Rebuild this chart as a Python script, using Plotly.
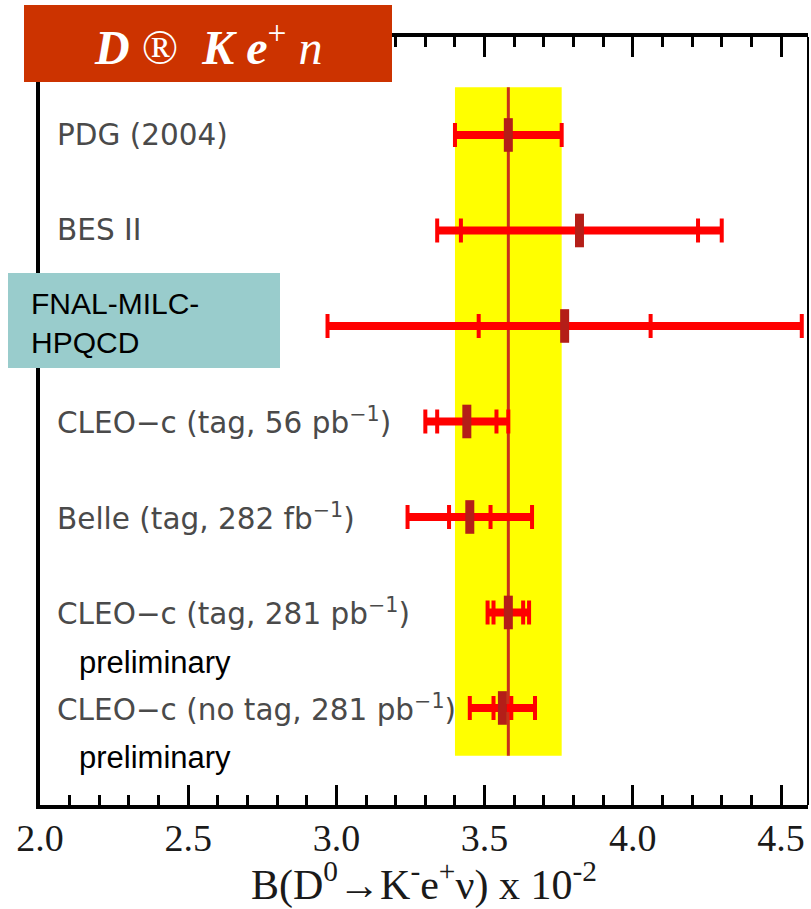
import plotly.graph_objects as go

# ---------------- data ----------------
labels = [
    "PDG (2004)",
    "BES II",
    "FNAL-MILC-HPQCD",
    "CLEO\u2212c (tag, 56 pb<sup>\u22121</sup>)",
    "Belle (tag, 282 fb<sup>\u22121</sup>)",
    "CLEO\u2212c (tag, 281 pb<sup>\u22121</sup>)",
    "CLEO\u2212c (no tag, 281 pb<sup>\u22121</sup>)",
]
central = [3.58, 3.82, 3.77, 3.44, 3.45, 3.58, 3.56]
stat_err = [None, 0.40, 0.29, 0.10, 0.07, 0.05, 0.03]
total_err = [0.18, 0.48, 0.80, 0.14, 0.21, 0.07, 0.11]
preliminary = [False, False, False, False, False, True, True]
is_lattice = [False, False, True, False, False, False, False]
x_ticks = [2.0, 2.5, 3.0, 3.5, 4.0, 4.5]
x_tick_text = ["2.0", "2.5", "3.0", "3.5", "4.0", "4.5"]
x_title = "B(D<sup>0</sup>\u2192K<sup>-</sup>e<sup>+</sup>\u03bd) x 10<sup>-2</sup>"
title_text = ("<b><i>D</i></b> \u00ae\u00a0\u00a0<b><i>K</i></b>\u00a0<b><i>e</i></b>"
              "<sup>+</sup>\u00a0<i>n</i>")

rows = list(range(len(labels)))

# ---------------- geometry helpers ----------------
W_FIG, H_FIG = 811, 909
L, R, T, B = 40, 808, 37, 805
PW, PH = R - L, B - T


def px(x):
    return (x - L) / PW


def py(y):
    return (B - y) / PH


RED = "#FF0000"
DARK = "#B41E18"

fig = go.Figure()

# main bars (total range)
bx, by = [], []
for r, c, e in zip(rows, central, total_err):
    bx += [c - e, c + e, None]
    by += [r, r, None]
fig.add_trace(go.Scatter(x=bx, y=by, mode="lines",
                         line=dict(color=RED, width=8), hoverinfo="skip",
                         showlegend=False))

# outer caps
fig.add_trace(go.Scatter(
    x=central, y=rows, mode="markers",
    marker=dict(color="rgba(0,0,0,0)", size=1),
    error_x=dict(type="data", array=total_err, symmetric=True,
                 color=RED, thickness=4, width=12),
    showlegend=False, hoverinfo="skip"))

# inner caps
si_x = [c for c, s in zip(central, stat_err) if s is not None]
si_y = [r for r, s in zip(rows, stat_err) if s is not None]
si_e = [s for s in stat_err if s is not None]
fig.add_trace(go.Scatter(
    x=si_x, y=si_y, mode="markers",
    marker=dict(color="rgba(0,0,0,0)", size=1),
    error_x=dict(type="data", array=si_e, symmetric=True,
                 color=RED, thickness=4, width=12),
    showlegend=False, hoverinfo="skip"))

# central markers
fig.add_trace(go.Scatter(
    x=central, y=rows, mode="markers",
    marker=dict(symbol="line-ns", size=24, color=DARK,
                line=dict(color=DARK, width=9)),
    showlegend=False, hoverinfo="skip"))

# PDG band and line
pdg_c, pdg_e = central[0], total_err[0]
shapes = [
    dict(type="rect", xref="x", yref="y", x0=pdg_c - pdg_e, x1=pdg_c + pdg_e,
         y0=rows[0] - 0.5, y1=rows[-1] + 0.5, fillcolor="#FFFF00",
         line=dict(width=0), layer="below"),
    dict(type="line", xref="x", yref="y", x0=pdg_c, x1=pdg_c,
         y0=rows[0] - 0.5, y1=rows[-1] + 0.5,
         line=dict(color="#C8301C", width=3), layer="below"),
    # right frame line (thinner)
    dict(type="line", xref="paper", yref="paper", x0=1, x1=1, y0=0, y1=1,
         line=dict(color="black", width=2), layer="above"),
    # title box
    dict(type="rect", xref="paper", yref="paper", x0=px(24), x1=px(392),
         y0=py(82), y1=py(5), fillcolor="#CC3300", line=dict(width=0),
         layer="above"),
    # lattice box
    dict(type="rect", xref="paper", yref="paper", x0=px(8), x1=px(280),
         y0=py(368), y1=py(273), fillcolor="#99CCCC", line=dict(width=0),
         layer="above"),
]

annotations = []
for r, lab, lat, pre in zip(rows, labels, is_lattice, preliminary):
    if lat:
        annotations.append(dict(
            x=px(29), xref="paper", y=py(323), yref="paper",
            xanchor="left", yanchor="middle", align="left",
            text=lab.replace("MILC-", "MILC-<br>"), showarrow=False,
            font=dict(family="Liberation Sans", size=30, color="black")))
    else:
        annotations.append(dict(
            x=px(55), xref="paper", y=r, yref="y",
            xanchor="left", yanchor="middle", align="left",
            text=lab, showarrow=False,
            font=dict(family="DejaVu Sans", size=29.5, color="#4a4a4a")))
    if pre:
        annotations.append(dict(
            x=px(77), xref="paper", y=r + 0.52, yref="y",
            xanchor="left", yanchor="middle", text="preliminary",
            showarrow=False,
            font=dict(family="Liberation Sans", size=31, color="black")))

annotations.append(dict(
    x=px(208), xref="paper", y=py(44), yref="paper",
    xanchor="center", yanchor="middle", text=title_text, showarrow=False,
    font=dict(family="Liberation Serif", size=48, color="white")))

# x-axis title
annotations.append(dict(
    x=px(424), xref="paper", y=py(882), yref="paper",
    xanchor="center", yanchor="middle", text=x_title, showarrow=False,
    font=dict(family="Liberation Serif", size=42, color="#1a1a1a")))

fig.update_layout(
    width=W_FIG, height=H_FIG,
    margin=dict(l=L, r=W_FIG - R, t=T, b=H_FIG - B, pad=0),
    paper_bgcolor="white", plot_bgcolor="white",
    shapes=shapes, annotations=annotations,
    showlegend=False,
)
fig.update_xaxes(
    range=[2.0, 4.591], tickvals=x_ticks, ticktext=x_tick_text,
    ticks="inside", ticklen=20, tickwidth=3, tickcolor="black",
    minor=dict(dtick=0.1, tick0=2.0, ticks="inside", ticklen=10,
               tickwidth=3, tickcolor="black"),
    showline=True, linewidth=4, linecolor="black", mirror="ticks",
    showgrid=False, zeroline=False, ticklabelstandoff=-4,
    tickfont=dict(family="Liberation Serif", size=38, color="#1a1a1a"),
)
fig.update_yaxes(
    range=[7.016, -1.026], showticklabels=False, ticks="",
    showline=True, linewidth=4, linecolor="black", mirror=False,
    showgrid=False, zeroline=False,
)

fig.write_html("out.html")
